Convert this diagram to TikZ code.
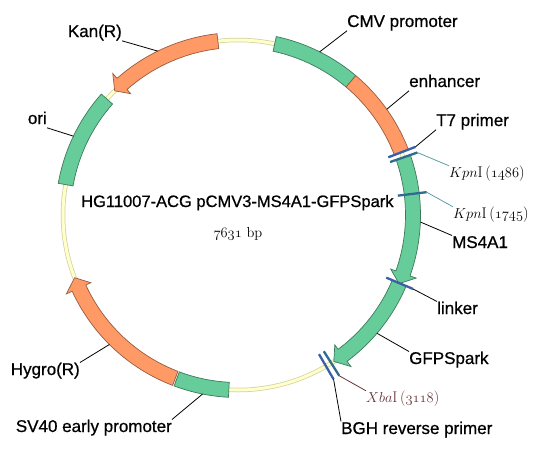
\documentclass[tikz,border=0pt]{standalone}
\usepackage{fontspec}
\newfontfamily\labelfont[FakeBold=0.7]{Liberation Sans}
\begin{document}
\begin{tikzpicture}[x=1pt,y=1pt,
        lbl/.style={font=\labelfont\fontsize{17}{20}\selectfont, inner sep=0pt, text height=12.3pt, text depth=3.6pt},
        site/.style={font=\fontsize{15.5}{18}\selectfont, inner sep=0pt, text height=11pt, text depth=3pt},
        leader/.style={black, line width=0.8pt}]
    \def\R{175}
    \def\Ri{167.5}
    \def\Ro{182.5}
    \def\Rw{162}
    \def\Rx{189}

    \definecolor{colG}{HTML}{66CC99}
    \definecolor{colO}{HTML}{FF9966}
    \definecolor{colRing}{HTML}{FFFFCC}
    \definecolor{edgeRing}{HTML}{D2D2A0}
    \definecolor{colT}{HTML}{3A5FA5}
    \definecolor{colK}{HTML}{2F6A8F}
    \definecolor{colX}{HTML}{663333}
    \definecolor{colL}{HTML}{5F9EA8}

    \newcommand{\band}[3]{
        \filldraw[fill=#1, draw=#1!60!black, line width=0.7pt]
            (#2:\Ro) arc[start angle=#2, end angle=#3, radius=\Ro] --
            (#3:\Ri) arc[start angle=#3, end angle=#2, radius=\Ri] -- cycle;
    }
    \newcommand{\arrowband}[4]{
        \filldraw[fill=#1, draw=#1!60!black, line width=0.7pt]
            (#2:\Ro) arc[start angle=#2, end angle=#3, radius=\Ro] --
            (#3:\Rx) -- (#4:\R) -- (#3:\Rw) --
            (#3:\Ri) arc[start angle=#3, end angle=#2, radius=\Ri] -- cycle;
    }

    \useasboundingbox (-238,-238) rectangle (302,215);

    % Backbone
    \draw[edgeRing, line width=4.5pt] (0,0) circle (\R);
    \draw[colRing, line width=3pt] (0,0) circle (\R);

    % Features
    \foreach \col/\from/\to in {colG/77.9/49.8, colO/49.8/21, colG/170/138.5, colG/249.5/267} {
        \band{\col}{\from}{\to}
    }
    \foreach \col/\from/\base/\tip in {colO/96.6/131.5/134.8, colO/249/204.7/201,
                                       colG/19.2/-19.5/-23.1, colG/-22.9/-53.3/-56.8} {
        \arrowband{\col}{\from}{\base}{\tip}
    }

    % Sites
    \foreach \a/\col in {21/colT, 19.2/colK, 6.9/colK, -22.9/colT, -57.8/colK, -59.8/colT} {
        \draw[\col, line width=2.3pt] (\a:161) -- (\a:190);
    }

    % Titles
    \node[font=\labelfont\fontsize{16.5}{20}\selectfont, inner sep=0pt, anchor=base west] (lblTitle) at (-157,8) {HG11007-ACG pCMV3-MS4A1-GFPSpark};
    \node[font=\fontsize{14.5}{17}\selectfont, inner sep=0pt, anchor=base] (lblSize) at (0,-22) {$\mathnormal{7631}$ bp};

    % Labels
    \node[lbl, anchor=base east]  (lblKan) at (-116,178) {Kan(R)};
    \node[lbl, anchor=base west]  (lblCMV) at (109,188) {CMV promoter};
    \node[lbl, anchor=base west]  (lblEnh) at (171,128) {enhancer};
    \node[lbl, anchor=base west]  (lblT7) at (198,89) {T7 primer};
    \node[lbl, anchor=base east]  (lblOri) at (-191,91) {ori};
    \node[lbl, anchor=base west]  (lblMS) at (214,-33) {MS4A1};
    \node[lbl, anchor=base west]  (lblLink) at (199,-99) {linker};
    \node[lbl, anchor=base west]  (lblGFP) at (171,-149) {GFPSpark};
    \node[lbl, anchor=base west]  (lblBGH) at (103,-219) {BGH reverse primer};
    \node[lbl, anchor=base east]  (lblHyg) at (-158,-160) {Hygro(R)};
    \node[lbl, anchor=base east]  (lblSV) at (-66,-217) {SV40 early promoter};
    \node[site, anchor=base west] (lblK1) at (211,38) {$Kpn$I\,($\mathnormal{1486}$)};
    \node[site, anchor=base west] (lblK2) at (215,-3) {$Kpn$I\,($\mathnormal{1745}$)};
    \node[site, anchor=base west, colX] (lblX) at (128,-187) {$Xba$I\,($\mathnormal{3118}$)};

    % Leaders
    \foreach \lab/\a/\rad in {lblKan.south east/116.1/182.5, lblCMV.south west/63.4/182.5,
                              lblEnh.south west/35.4/182.5, lblT7.south west/21/190,
                              lblOri.south east/154.4/182.5, lblMS.north west/-2.2/182.5,
                              lblLink.north west/-22.9/190, lblGFP.north west/-40.4/182.5,
                              lblBGH.north west/-59.8/190, lblHyg.north east/225.2/182.5,
                              lblSV.north east/258.8/182.5} {
        \draw[leader] (\lab) -- (\a:\rad);
    }
    \draw[colL, line width=0.8pt] (lblK1.north west) -- (19.2:190);
    \draw[colL, line width=0.8pt] (lblK2.north west) -- (6.9:190);
    \draw[colX, line width=0.8pt] (lblX.north west) -- (-57.8:190);
\end{tikzpicture}
\end{document}
